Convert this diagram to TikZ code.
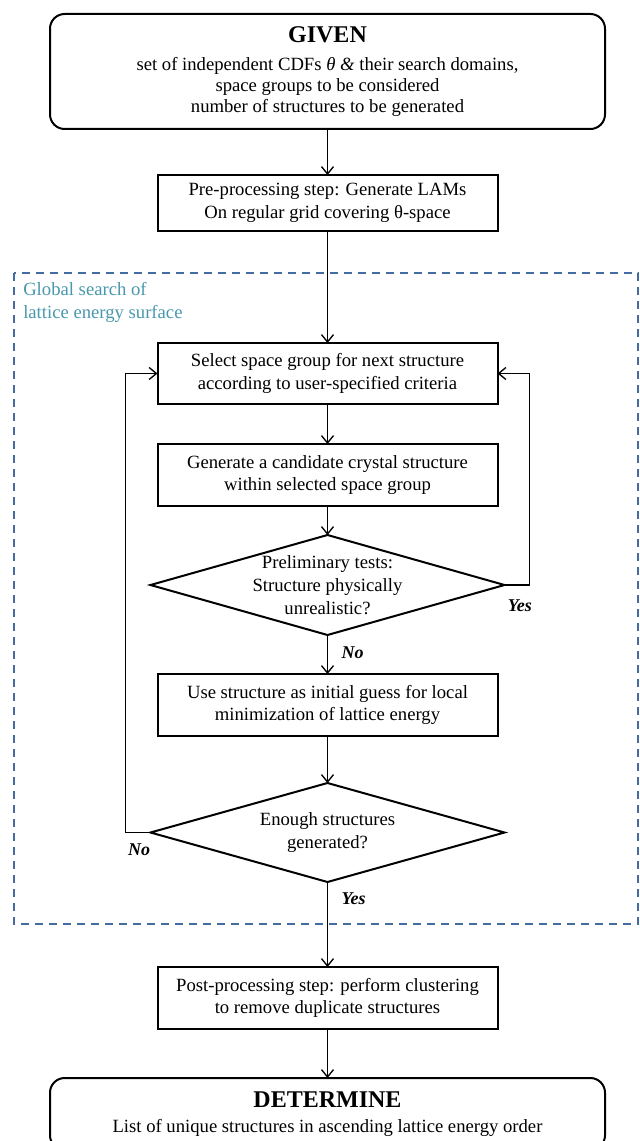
\documentclass[tikz,border=0pt]{standalone}
\usepackage{fontspec}
\setmainfont{Liberation Serif}
\usetikzlibrary{arrows.meta, positioning, shapes.geometric}
\definecolor{colorFrame}{RGB}{68,108,160}
\definecolor{colorRegion}{RGB}{72,152,172}
\tikzset{
  terminal/.style={draw, rounded corners=11pt, line width=1.5pt, outer sep=0pt, minimum width=416.25pt, align=center, inner sep=2pt},
  process/.style={draw, line width=1.5pt, outer sep=0pt, minimum width=255pt, minimum height=46.5pt, align=center, inner sep=2pt},
  decision/.style={draw, diamond, line width=1.5pt, outer sep=0pt, minimum width=265.5pt, minimum height=75pt, inner sep=0pt},
  cond/.style={font=\fontsize{13.5}{16}\selectfont\bfseries\itshape, inner sep=0pt},
  flow/.style={-{Straight Barb[length=5.5pt,width=9pt]}, line width=1pt},
  frame/.style={draw=colorFrame, line width=1.5pt, dash pattern=on 6pt off 4.5pt},
}

\begin{document}
\begin{tikzpicture}[x=0.75pt, y=-0.75pt, font=\fontsize{14}{17}\selectfont]
\useasboundingbox (0,0) rectangle (639,1141);
% search region
\draw[frame] (14,273) rectangle (638,924);
\node[text=colorRegion, align=left, anchor=north west, inner sep=0pt] (region) at (23,282) {Global search of\\lattice energy surface};

\node[terminal, minimum height=86.25pt] (given) at (327.5,71.5) {{\fontsize{18}{22}\selectfont\bfseries GIVEN}\\[4pt]set of independent CDFs \textit{θ \&} their search domains,\\[-1.5pt]space groups to be considered\\[-1pt]number of structures to be generated};
\node[process, minimum height=42pt, below=34.5pt of given] (pre) {Pre-processing step: Generate LAMs\\On regular grid covering θ-space};
\node[process, minimum height=45.75pt, below=84pt of pre] (select) {Select space group for next structure\\according to user-specified criteria};
\node[process, below=30pt of select] (gen) {Generate a candidate crystal structure\\within selected space group};
\node[decision, below=21.75pt of gen, label={[align=center]center:Preliminary tests:\\Structure physically\\unrealistic?}] (test) {};
\node[process, below=29.25pt of test] (local) {Use structure as initial guess for local\\minimization of lattice energy};
\node[decision, minimum height=74.25pt, below=35.25pt of local, label={[align=center]center:Enough structures\\generated?}] (enough) {};
\node[process, below=63.75pt of enough] (post) {Post-processing step: perform clustering\\to remove duplicate structures};
\node[terminal, minimum height=54pt, below=36.75pt of post] (det) {{\fontsize{18}{22}\selectfont\bfseries DETERMINE}\\[1.5pt]List of unique structures in ascending lattice energy order};

% connectors
\draw[flow] (given) -- (pre);
\draw[flow] (pre) -- (select);
\draw[flow] (select) -- (gen);
\draw[flow] (gen) -- (test);
\draw[flow] (test) -- node[cond, right=10pt, pos=0.45] {No} (local);
\draw[flow] (test.east) -- ++(25,0) |- (select.east);
\node[cond, below right=10.5pt and 2.25pt of test.east] (yes1) {Yes};
\draw[flow] (local) -- (enough);
\draw[flow] (enough.west) -- ++(-25,0) |- (select.west);
\node[cond, below left=8pt and 0pt of enough.west] (no2) {No};
\draw[flow] (enough) -- node[cond, right=10pt, pos=0.2] {Yes} (post);
\draw[flow] (post) -- (det);
\end{tikzpicture}
\end{document}
